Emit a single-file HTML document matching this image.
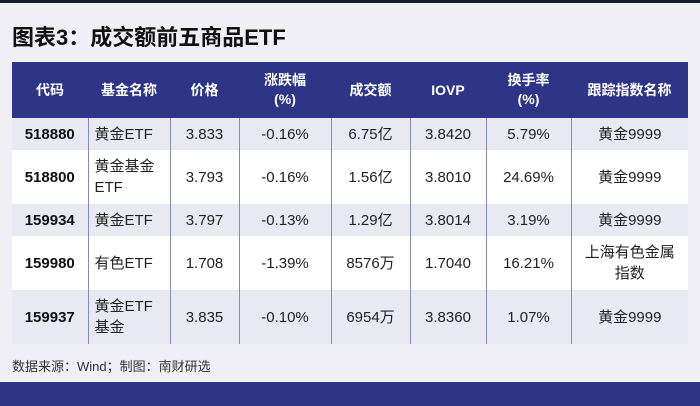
<!DOCTYPE html><html><head><meta charset="utf-8"><style>
body{margin:0;width:700px;height:406px;background:#f0eff6;position:relative;overflow:hidden;font-family:"Liberation Sans","Noto Sans CJK SC",sans-serif;}
.top{position:absolute;left:0;top:0;width:700px;height:3px;background:#1a1a2e}
.title{position:absolute;left:12px;top:20px;font-size:22px;font-weight:bold;color:#111;letter-spacing:0}
table{position:absolute;left:12px;top:62px;border-collapse:collapse;table-layout:fixed;width:676px;font-size:15px;color:#222}
th{background:#2e3587;color:#fff;font-weight:bold;height:56px;padding:0;line-height:19px;text-align:center;font-size:14px}
td{padding:0;text-align:center;line-height:21px;border-left:1px solid #7f8db5}
td:first-child{border-left:none;font-weight:bold;color:#111}
td.l{text-align:left;padding-left:6px}
tr.a td{background:#e9e9f4}
tr.b td{background:#fff}
.foot{position:absolute;left:12px;top:356px;font-size:13px;color:#333}
.bot{position:absolute;left:0;top:382px;width:700px;height:24px;background:#2e3587}
</style></head><body>
<div class="top"></div>
<div class="title">图表3：成交额前五商品ETF</div>
<table>
<colgroup><col style="width:76px"><col style="width:82px"><col style="width:69px"><col style="width:92px"><col style="width:79px"><col style="width:76px"><col style="width:85px"><col style="width:117px"></colgroup>
<tr><th>代码</th><th>基金名称</th><th>价格</th><th>涨跌幅<br>(%)</th><th>成交额</th><th>IOVP</th><th>换手率<br>(%)</th><th>跟踪指数名称</th></tr>
<tr class="a" style="height:32px"><td>518880</td><td class="l">黄金ETF</td><td>3.833</td><td>-0.16%</td><td>6.75亿</td><td>3.8420</td><td>5.79%</td><td>黄金9999</td></tr>
<tr class="b" style="height:54px"><td>518800</td><td class="l">黄金基金<br>ETF</td><td>3.793</td><td>-0.16%</td><td>1.56亿</td><td>3.8010</td><td>24.69%</td><td>黄金9999</td></tr>
<tr class="a" style="height:32px"><td>159934</td><td class="l">黄金ETF</td><td>3.797</td><td>-0.13%</td><td>1.29亿</td><td>3.8014</td><td>3.19%</td><td>黄金9999</td></tr>
<tr class="b" style="height:54px"><td>159980</td><td class="l">有色ETF</td><td>1.708</td><td>-1.39%</td><td>8576万</td><td>1.7040</td><td>16.21%</td><td>上海有色金属<br>指数</td></tr>
<tr class="a" style="height:54px"><td>159937</td><td class="l">黄金ETF<br>基金</td><td>3.835</td><td>-0.10%</td><td>6954万</td><td>3.8360</td><td>1.07%</td><td>黄金9999</td></tr>
</table>
<div class="foot">数据来源：Wind；制图：南财研选</div>
<div class="bot"></div>
</body></html>
